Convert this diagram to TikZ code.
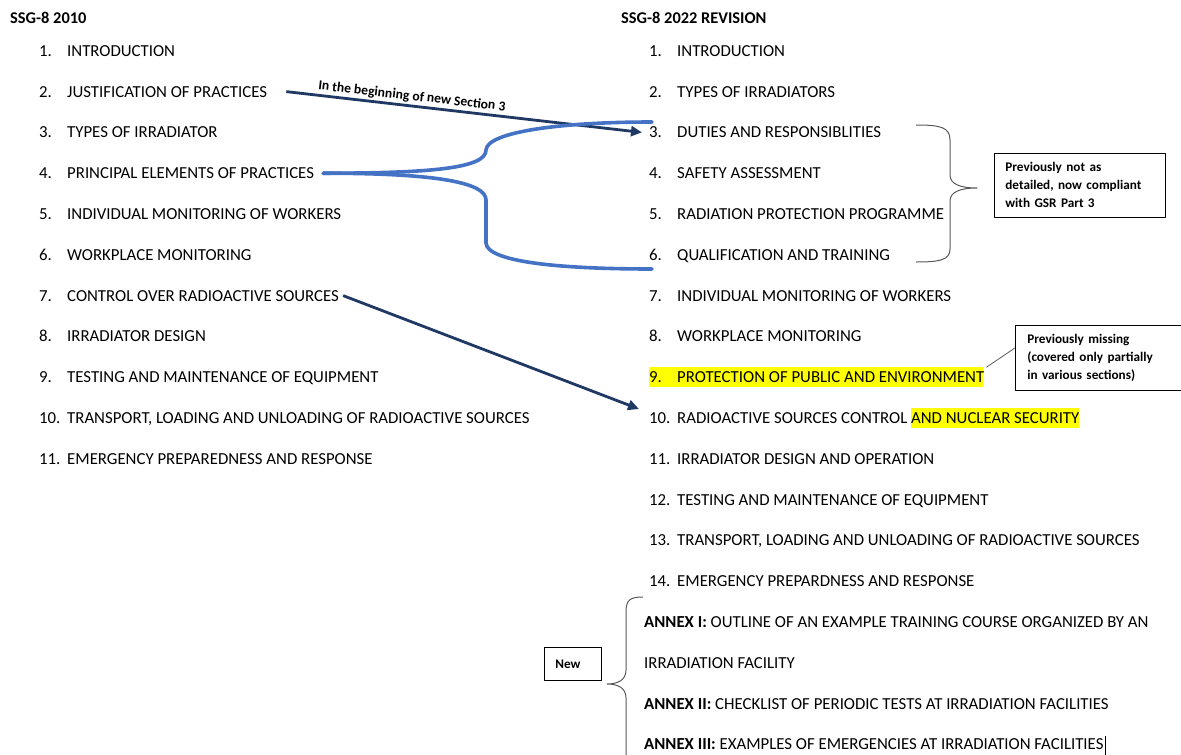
\documentclass[tikz,border=0pt]{standalone}
\usepackage{fontspec}
\setmainfont{Carlito}
\usetikzlibrary{arrows.meta}
\definecolor{navy}{HTML}{1F3864}
\definecolor{wordblue}{HTML}{4472C4}
\definecolor{hiyellow}{HTML}{FFFF00}
\definecolor{bracegray}{HTML}{595959}
\newcommand{\hlt}[1]{{\setlength{\fboxsep}{0pt}\colorbox{hiyellow}{\rule[-5pt]{0pt}{20pt}#1}}}
\tikzset{
  item/.style={anchor=base west, inner sep=0pt, font=\fontsize{16.8}{19}\selectfont},
  head/.style={anchor=base west, inner sep=0pt, font=\bfseries\fontsize{16.4}{19}\selectfont},
  note/.style={draw, line width=.8pt, anchor=north west, inner xsep=11pt, inner ysep=0pt, align=left,
    font=\bfseries\fontsize{13.2}{18}\selectfont},
  moved/.style={navy, line width=2.8pt, -{Triangle[length=11pt,width=10pt]}},
  split/.style={wordblue, line width=3.6pt, line cap=round},
  curly/.style={bracegray, line width=1pt},
}
\begin{document}
\begin{tikzpicture}[x=1pt, y=-1pt, line join=round]
	\useasboundingbox (0,0) rectangle (1181,755);
	% headings
	\node[head] (h1) at (10,23.5) {SSG-8 2010};
	\node[head] (h2) at (621,23.5) {SSG-8 2022 REVISION};
	% highlight of new item 9
	\fill[hiyellow] (649,367) rectangle (983,387);
	% old contents
	\foreach \n/\t in {1/INTRODUCTION, 2/JUSTIFICATION OF PRACTICES, 3/TYPES OF IRRADIATOR,
		4/PRINCIPAL ELEMENTS OF PRACTICES, 5/INDIVIDUAL MONITORING OF WORKERS, 6/WORKPLACE MONITORING,
		7/CONTROL OVER RADIOACTIVE SOURCES, 8/IRRADIATOR DESIGN, 9/TESTING AND MAINTENANCE OF EQUIPMENT,
		10/{TRANSPORT, LOADING AND UNLOADING OF RADIOACTIVE SOURCES}, 11/EMERGENCY PREPAREDNESS AND RESPONSE}
	{
		\node[item] (ln\n) at (39,{56.2+40.8*(\n-1)}) {\n.};
		\node[item] (l\n) at (67,{56.2+40.8*(\n-1)}) {\t};
	}
	% revised contents
	\foreach \n/\t in {1/INTRODUCTION, 2/TYPES OF IRRADIATORS, 3/DUTIES AND RESPONSIBLITIES,
		4/SAFETY ASSESSMENT, 5/RADIATION PROTECTION PROGRAMME, 6/QUALIFICATION AND TRAINING,
		7/INDIVIDUAL MONITORING OF WORKERS, 8/WORKPLACE MONITORING, 9/PROTECTION OF PUBLIC AND ENVIRONMENT,
		10/{RADIOACTIVE SOURCES CONTROL \hlt{AND NUCLEAR SECURITY}}, 11/IRRADIATOR DESIGN AND OPERATION,
		12/TESTING AND MAINTENANCE OF EQUIPMENT, 13/{TRANSPORT, LOADING AND UNLOADING OF RADIOACTIVE SOURCES},
		14/EMERGENCY PREPARDNESS AND RESPONSE}
	{
		\node[item] (rn\n) at (649,{56.2+40.8*(\n-1)}) {\n.};
		\node[item] (r\n) at (677,{56.2+40.8*(\n-1)}) {\t};
	}
	% annexes
	\node[item] (a1) at (644,627.4) {\textbf{ANNEX I:} OUTLINE OF AN EXAMPLE TRAINING COURSE ORGANIZED BY AN};
	\node[item] (a2) at (644,668.2) {IRRADIATION FACILITY};
	\node[item] (a3) at (644,709) {\textbf{ANNEX II:} CHECKLIST OF PERIODIC TESTS AT IRRADIATION FACILITIES};
	\node[item] (a4) at (644,749.8) {\textbf{ANNEX III:} EXAMPLES OF EMERGENCIES AT IRRADIATION FACILITIES};
	\draw[line width=.8pt] ([xshift=1.5pt,yshift=-5pt]a4.base east) -- ([xshift=1.5pt,yshift=14pt]a4.base east);
	% moved sections
	\draw[moved] ([xshift=19pt]l2.east) -- node[sloped, above=1pt, pos=.35, inner sep=1pt, text=black,
		font=\bfseries\fontsize{13.6}{15}\selectfont] {In the beginning of new Section 3} ([xshift=-7pt]rn3.west);
	\draw[moved] ([xshift=4pt]l7.east) -- ([xshift=-10pt,yshift=9pt]rn10.west);
	% split of section 4
	\coordinate (fork) at ([xshift=9pt]l4.east);
	\coordinate (top3) at (652,122);
	\coordinate (bot6) at (652,269);
	\draw[split] (fork) .. controls +(110,0) and (486,168) .. (486,150) .. controls (487,132) and (560,122) .. (top3);
	\draw[split] (fork) .. controls +(110,0) and (486,182) .. (486,200) -- (486,243) .. controls (487,262) and (560,269) .. (bot6);
	% braces and notes
	\draw[curly] (916,125) .. controls (940,125) and (950,127) .. (950,140) -- (950,175)
		.. controls (950,184) and (960,188) .. (977,188) .. controls (960,188) and (950,192) .. (950,201)
		-- (950,249) .. controls (950,260) and (940,262) .. (916,262);
	\node[note, minimum width=171, minimum height=64, text width=149] (gsr) at (994,153)
		{Previously not as\\detailed, now compliant\\with GSR Part 3};
	\node[note, minimum width=167, minimum height=65, text width=150, inner xsep=12pt] (pm) at (1015,325)
		{Previously missing\\(covered only partially\\in various sections)};
	\draw[bracegray, line width=.8pt] ([yshift=10pt]pm.west) -- ([xshift=2pt,yshift=10pt]r9.east);
	\draw[curly] (643,597) .. controls (630,597) and (626,600) .. (626,612) -- (626,670)
		.. controls (626,680) and (618,684) .. (607,684) .. controls (618,684) and (626,688) .. (626,698) -- (626,760);
	\node[note, minimum width=57, minimum height=33, text width=35] (new) at (544,647) {New};
\end{tikzpicture}
\end{document}
